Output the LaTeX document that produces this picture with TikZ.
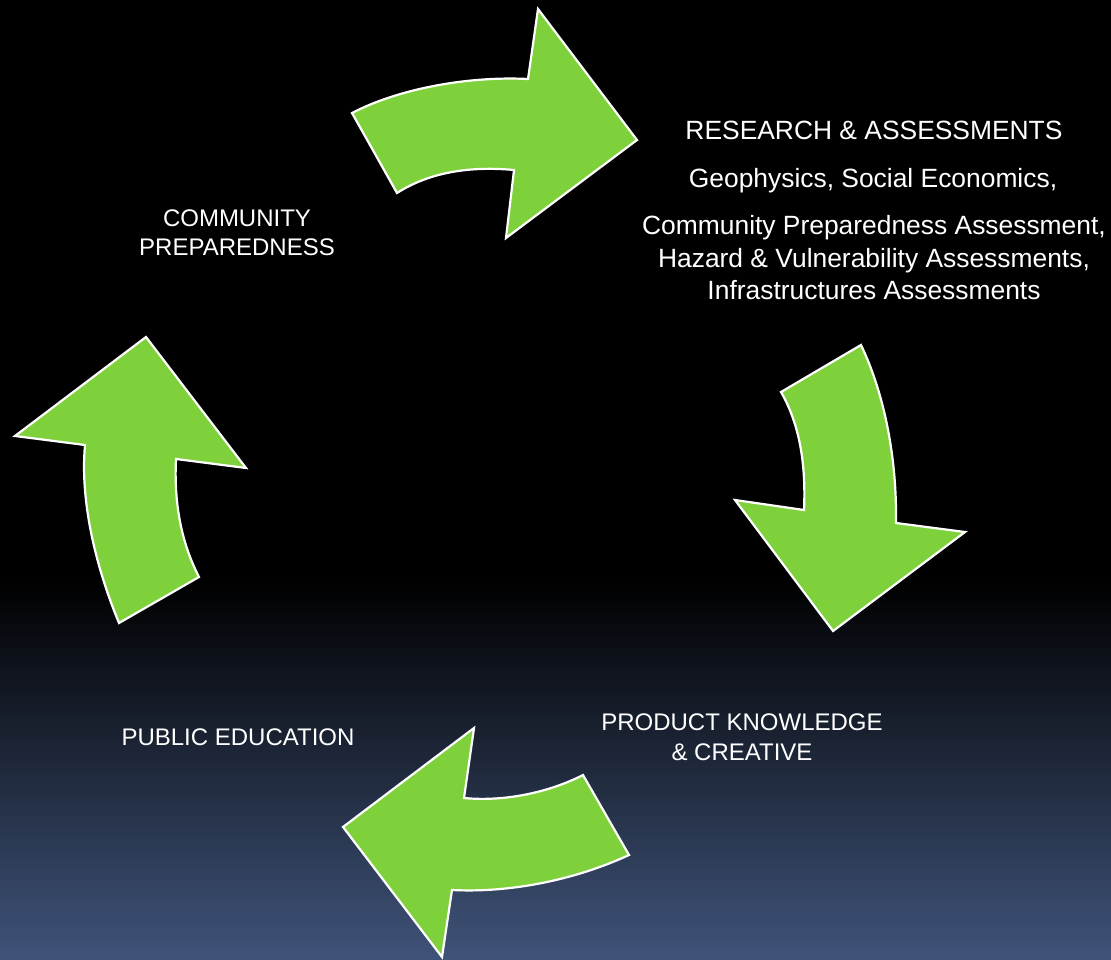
\documentclass[tikz,border=0pt]{standalone}
\usepackage{fontspec}
\setmainfont{Liberation Sans}
\definecolor{arrowgreen}{RGB}{127,209,59}
\definecolor{bgbottom}{RGB}{63,83,121}
\begin{document}
\begin{tikzpicture}[x=1pt,y=-1pt,
  cyclearrow/.style={fill=arrowgreen, draw=white, line width=2.2pt, line join=miter},
  smalllabel/.style={text=white, anchor=base, inner sep=0pt, font=\fontsize{24}{28}\selectfont},
  biglabel/.style={text=white, anchor=base, inner sep=0pt, font=\fontsize{26.4}{32}\selectfont}]
\useasboundingbox (0,0) rectangle (1111,960);
% background
\fill[black] (0,0) rectangle (1111,581);
\shade[top color=black, bottom color=bgbottom] (0,580) rectangle (1111,960);
% arrows
\path[cyclearrow] (352,113) .. controls (400,88) and (470,76) .. (528,79) -- (538,9) -- (637,140) -- (506,238) -- (514,170) .. controls (470,166) and (430,172) .. (397,193) -- cycle;
\path[cyclearrow] (861,345) .. controls (885,395) and (897,460) .. (896,523) -- (965,532) -- (833,631) -- (735,500) -- (804,510) .. controls (806,465) and (800,425) .. (781,392) -- cycle;
\path[cyclearrow] (629,855) .. controls (575,880) and (510,893) .. (452,890) -- (442,957) -- (343,827) -- (474,728) -- (464,798) .. controls (505,802) and (550,792) .. (583,775) -- cycle;
\path[cyclearrow] (119,623) .. controls (95,565) and (80,500) .. (85,445) -- (15,436) -- (146,337) -- (246,468) -- (176,459) .. controls (174,500) and (180,540) .. (199,577) -- cycle;
% labels
\node[smalllabel] (cp1) at (237,227) {COMMUNITY};
\node[smalllabel] (cp2) at (237,255) {PREPAREDNESS};
\node[biglabel] (ra) at (874,140) {RESEARCH \& ASSESSMENTS};
\node[biglabel] (geo) at (873,187.3) {Geophysics, Social Economics,};
\node[biglabel] (cpa) at (874,235) {Community Preparedness Assessment,};
\node[biglabel] (hva) at (874,267) {Hazard \& Vulnerability Assessments,};
\node[biglabel] (ia) at (874,299) {Infrastructures Assessments};
\node[smalllabel] (pk1) at (742,730.7) {PRODUCT KNOWLEDGE};
\node[smalllabel] (pk2) at (742,760) {\& CREATIVE};
\node[smalllabel] (pe) at (238,745) {PUBLIC EDUCATION};
\end{tikzpicture}
\end{document}
